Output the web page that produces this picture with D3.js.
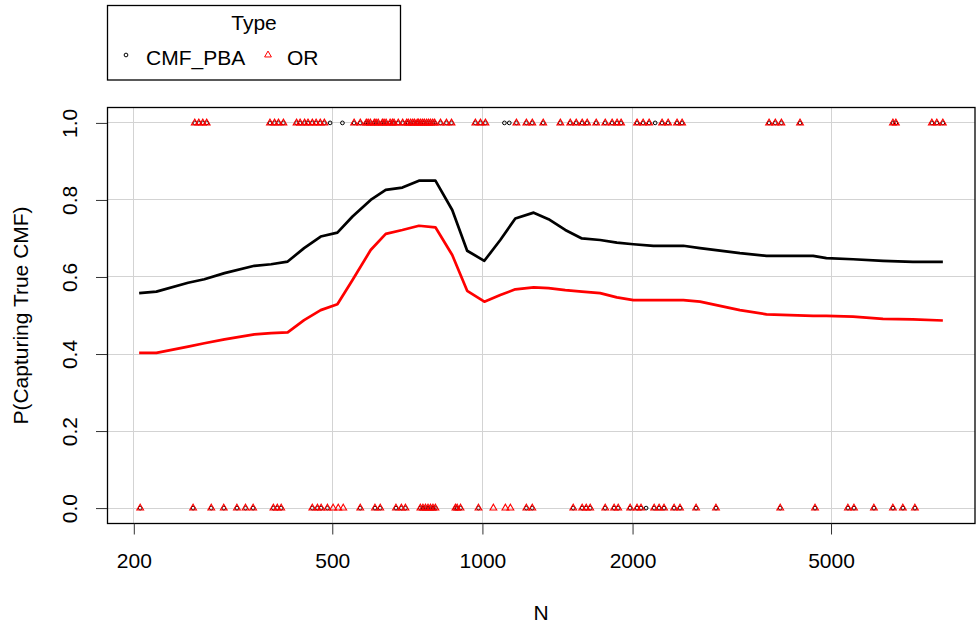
<!DOCTYPE html>
<html>
<head>
<meta charset="utf-8">
<script src="https://cdn.jsdelivr.net/npm/d3@7"></script>
<style>
  body { margin: 0; background: #fff; }
  svg { display: block; }
  text { font-family: "Liberation Sans", Arial, sans-serif; fill: #000; }
</style>
</head>
<body>
<svg id="chart" width="980" height="629"></svg>
<script>
// Smoothed probability of capturing the true CMF, by sample size N
const curveN = [205, 222, 257, 277, 304, 349, 377, 407, 439, 474, 512, 549, 597, 640, 691, 746, 805, 870, 932, 1009,
                1086, 1164, 1267, 1357, 1466, 1583, 1722, 1860, 2008, 2202, 2528, 2731, 3283, 3712, 4603, 4895, 5536, 6356, 7298, 8379];
const cmfFit = [0.558, 0.562, 0.585, 0.594, 0.610, 0.629, 0.633, 0.640, 0.675, 0.705, 0.715, 0.757, 0.800, 0.826, 0.832, 0.850, 0.850, 0.774, 0.668, 0.642,
                0.696, 0.752, 0.767, 0.750, 0.722, 0.700, 0.696, 0.689, 0.685, 0.681, 0.681, 0.675, 0.662, 0.655, 0.655, 0.649, 0.646, 0.642, 0.639, 0.639];
const orFit  = [0.403, 0.403, 0.419, 0.428, 0.438, 0.451, 0.454, 0.456, 0.488, 0.514, 0.529, 0.592, 0.670, 0.712, 0.722, 0.733, 0.729, 0.657, 0.564, 0.536,
                0.553, 0.568, 0.573, 0.571, 0.566, 0.562, 0.558, 0.547, 0.540, 0.540, 0.540, 0.536, 0.514, 0.503, 0.499, 0.499, 0.497, 0.491, 0.490, 0.487];

// Individual outcomes (1 = captured, 0 = missed)
const capturedBoth = [265, 270, 275, 280, 375, 383, 390, 399, 424, 431, 440, 447, 456, 464, 473, 482, 553, 569, 585, 590, 596, 607, 612, 618,
                      630, 635, 641, 653, 660, 665, 678, 692, 705, 710, 718, 725, 731, 740, 745, 752, 759, 765, 773, 780, 787, 795, 802,
                      824, 847, 867, 968, 991, 1014, 1170, 1225, 1259, 1324, 1433, 1500, 1542, 1585, 1622, 1691, 1763, 1820, 1862, 1897,
                      2042, 2100, 2159, 2292, 2357, 2456, 2514, 3756, 3866, 3976, 4333, 6654, 6745, 7964, 8148, 8378];
const capturedCmfOnly = [495, 524, 1107, 1132, 2220];
const missedBoth = [206, 263, 286, 303, 322, 335, 347, 381, 388, 395, 456, 467, 475, 489, 569, 609, 624, 671, 688, 701, 751, 760, 769, 778,
                    787, 796, 805, 883, 890, 904, 982, 1225, 1259, 1521, 1585, 1615, 1645, 1763, 1837, 1872, 1978, 2042, 2080, 2210,
                    2261, 2313, 2423, 2490, 2682, 2940, 3955, 4644, 5406, 5559, 6095, 6654, 6967, 7365];
const missedOrOnly = [502, 514, 526, 1052, 1112, 1138];
const missedCmfOnly = [2129];

const xTicks = [200, 500, 1000, 2000, 5000];
const yTicks = [0, 0.2, 0.4, 0.6, 0.8, 1.0];
const types = ["CMF_PBA", "OR"];
const typeColors = { CMF_PBA: "#000000", OR: "#ff0000" };

// Point records per type
const cmfPoints = [...capturedBoth, ...capturedCmfOnly].map(n => ({ n, v: 1 }))
  .concat([...missedBoth, ...missedCmfOnly].map(n => ({ n, v: 0 })));
const orPoints = capturedBoth.map(n => ({ n, v: 1 }))
  .concat([...missedBoth, ...missedOrOnly].map(n => ({ n, v: 0 })));

const svg = d3.select("#chart");
const W = 980, H = 629;
const plot = { left: 107, right: 975, top: 107.5, bottom: 523.5 };

svg.append("rect").attr("width", W).attr("height", H).attr("fill", "#fff");

// Log-scaled x with 4% padding on each side of the data range
const allN = curveN.concat(cmfPoints.map(d => d.n), orPoints.map(d => d.n));
const [nMin, nMax] = d3.extent(allN);
const lo = Math.log10(nMin), hi = Math.log10(nMax), pad = 0.04 * (hi - lo);
const x = d3.scaleLog().domain([10 ** (lo - pad), 10 ** (hi + pad)]).range([plot.left, plot.right]);
const y = d3.scaleLinear().domain([-0.04, 1.04]).range([plot.bottom, plot.top]);

// Grid
const grid = svg.append("g").attr("stroke", "#d3d3d3").attr("stroke-width", 1).attr("shape-rendering", "crispEdges");
grid.selectAll("line.gx").data(xTicks).join("line")
  .attr("x1", d => x(d)).attr("x2", d => x(d)).attr("y1", plot.top).attr("y2", plot.bottom);
grid.selectAll("line.gy").data(yTicks).join("line")
  .attr("x1", plot.left).attr("x2", plot.right).attr("y1", d => y(d)).attr("y2", d => y(d));

// Outcome points
const circle = d3.symbol(d3.symbolCircle, 11);
const tri = d3.symbol(d3.symbolTriangle, 20);
svg.append("g").selectAll("path").data(cmfPoints).join("path")
  .attr("d", circle).attr("transform", d => `translate(${x(d.n)},${y(d.v)})`)
  .attr("fill", "none").attr("stroke", typeColors.CMF_PBA).attr("stroke-width", 1);
svg.append("g").selectAll("path").data(orPoints).join("path")
  .attr("d", tri).attr("transform", d => `translate(${x(d.n)},${y(d.v)})`)
  .attr("fill", "none").attr("stroke", typeColors.OR).attr("stroke-width", 1.1);

// Smoothed curves
const line = d3.line().x(d => x(d[0])).y(d => y(d[1]));
svg.append("path").datum(d3.zip(curveN, cmfFit)).attr("d", line)
  .attr("fill", "none").attr("stroke", typeColors.CMF_PBA).attr("stroke-width", 2.7).attr("stroke-linejoin", "round");
svg.append("path").datum(d3.zip(curveN, orFit)).attr("d", line)
  .attr("fill", "none").attr("stroke", typeColors.OR).attr("stroke-width", 2.7).attr("stroke-linejoin", "round");

// Plot frame
svg.append("rect")
  .attr("x", plot.left + 0.5).attr("y", plot.top)
  .attr("width", plot.right - plot.left - 0.5).attr("height", plot.bottom - plot.top)
  .attr("fill", "none").attr("stroke", "#000").attr("stroke-width", 1.3);

// Axes
const fs = 21;
const xAxis = svg.append("g").attr("transform", `translate(0,${plot.bottom})`)
  .call(d3.axisBottom(x).tickValues(xTicks).tickFormat(d3.format("d")).tickSize(11).tickPadding(19).tickSizeOuter(0));
xAxis.select(".domain").remove();
xAxis.selectAll("text").attr("font-size", fs).attr("font-family", null);
xAxis.selectAll("line").attr("stroke", "#333");

const yAxis = svg.append("g").attr("transform", `translate(${plot.left},0)`)
  .call(d3.axisLeft(y).tickValues(yTicks).tickFormat(d3.format(".1f")).tickSize(11).tickSizeOuter(0));
yAxis.select(".domain").remove();
yAxis.selectAll("line").attr("stroke", "#333");
yAxis.selectAll("text")
  .attr("font-size", fs).attr("font-family", null)
  .attr("x", null).attr("dy", null)
  .attr("text-anchor", "middle")
  .attr("transform", "translate(-30,0) rotate(-90)");

// Axis titles
svg.append("text").attr("x", (plot.left + plot.right) / 2).attr("y", 620)
  .attr("text-anchor", "middle").attr("font-size", fs).text("N");
svg.append("text")
  .attr("transform", `translate(28,${(plot.top + plot.bottom) / 2}) rotate(-90)`)
  .attr("text-anchor", "middle").attr("font-size", fs).text("P(Capturing True CMF)");

// Legend
const lg = svg.append("g");
lg.append("rect").attr("x", 107.5).attr("y", 5.5).attr("width", 293).attr("height", 74.5)
  .attr("fill", "#fff").attr("stroke", "#000").attr("stroke-width", 1.3);
lg.append("text").attr("x", 254).attr("y", 30).attr("text-anchor", "middle").attr("font-size", fs).text("Type");
const items = [
  { key: types[0], sx: 126, tx: 146, sym: circle },
  { key: types[1], sx: 268, tx: 287, sym: tri }
];
items.forEach(it => {
  lg.append("path").attr("d", it.sym).attr("transform", `translate(${it.sx},55)`)
    .attr("fill", "none").attr("stroke", typeColors[it.key]).attr("stroke-width", 1);
  lg.append("text").attr("x", it.tx).attr("y", 65).attr("font-size", fs).text(it.key);
});
</script>
</body>
</html>
